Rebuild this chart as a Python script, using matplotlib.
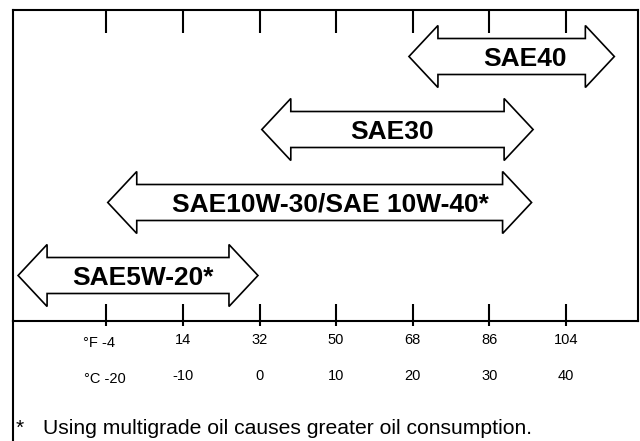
import matplotlib
matplotlib.use("Agg")
import matplotlib.pyplot as plt
from matplotlib.patches import Polygon
import matplotlib.transforms as mtransforms

# oil grades and the temperature range (deg C) each one covers
grades = ["SAE40", "SAE30", "SAE10W-30/SAE 10W-40*", "SAE5W-20*"]
range_low = [19.5, 0.3, -19.8, -31.5]
range_high = [46.3, 35.7, 35.5, -0.2]

celsius = [-20, -10, 0, 10, 20, 30, 40]
fahrenheit = [-4, 14, 32, 50, 68, 86, 104]
f_labels = ["°F -4", "14", "32", "50", "68", "86", "104"]
c_labels = ["°C -20", "-10", "0", "10", "20", "30", "40"]

footnote = "Using multigrade oil causes greater oil consumption."

W, H = 640, 441
plt.rcParams["font.family"] = ["Liberation Sans", "DejaVu Sans"]
fig = plt.figure(figsize=(W / 100, H / 100), dpi=100)

# the boxed part of the chart, y measured in pixels from the top
box_l, box_r, box_t, box_b = 13, 638, 10, 321
ax = fig.add_axes([box_l / W, 1 - box_b / H, (box_r - box_l) / W, (box_b - box_t) / H])
px_per_deg = 7.664
zero_px = 259.5
ax.set_xlim((box_l - zero_px) / px_per_deg, (box_r - zero_px) / px_per_deg)
ax.set_ylim(box_b, box_t)
ax.set_xticks([])
ax.set_yticks([])
for sp in ax.spines.values():
    sp.set_linewidth(1.5)
ax.spines["bottom"].set_zorder(5)

# left border keeps going down past the box
ax.plot([0, 0], [box_b, H], color="black", lw=1.5, clip_on=False,
        transform=mtransforms.blended_transform_factory(ax.transAxes, ax.transData))

# ticks along top and bottom edges
ax.vlines(celsius, box_t, 33, color="black", lw=1.5, clip_on=False)
ax.vlines(celsius, 304, 326, color="black", lw=1.5, clip_on=False)

# double headed arrows
head_len = 29 / px_per_deg
head_half = 31
shaft_half = 18
row_gap = 73
first_row = 56.5
label_shift = [13, -5, 11, 5]  # pixels, label is not quite centred on its arrow
for i, name in enumerate(grades):
    yc = first_row + row_gap * i
    x0, x1 = range_low[i], range_high[i]
    pts = [
        (x0, yc), (x0 + head_len, yc - head_half), (x0 + head_len, yc - shaft_half),
        (x1 - head_len, yc - shaft_half), (x1 - head_len, yc - head_half), (x1, yc),
        (x1 - head_len, yc + head_half), (x1 - head_len, yc + shaft_half),
        (x0 + head_len, yc + shaft_half), (x0 + head_len, yc + head_half),
    ]
    ax.add_patch(Polygon(pts, closed=True, facecolor="white", edgecolor="black",
                         lw=1.2, joinstyle="miter", clip_on=False))
    ax.annotate(name, ((x0 + x1) / 2, yc + 9), xytext=(label_shift[i], 0),
                textcoords="offset pixels", ha="center", va="baseline",
                fontsize=19, fontweight="bold", annotation_clip=False)

# temperature labels under the box
for i in range(len(celsius)):
    if i == 0:
        ax.annotate(f_labels[i], (celsius[i], 347), xytext=(-7, 0), textcoords="offset pixels",
                    ha="center", va="baseline", fontsize=10.5, annotation_clip=False)
        ax.annotate(c_labels[i], (celsius[i], 383), xytext=(-1, 0), textcoords="offset pixels",
                    ha="center", va="baseline", fontsize=10.5, annotation_clip=False)
    else:
        ax.text(celsius[i], 344, f_labels[i], ha="center", va="baseline", fontsize=10.5, clip_on=False)
        ax.text(celsius[i], 380, c_labels[i], ha="center", va="baseline", fontsize=10.5, clip_on=False)

fig.text(20 / W, 1 - 434 / H, "*", ha="center", va="baseline", fontsize=15)
fig.text(43 / W, 1 - 434 / H, footnote, ha="left", va="baseline", fontsize=15.2)

fig.savefig("out.png", dpi=100)
